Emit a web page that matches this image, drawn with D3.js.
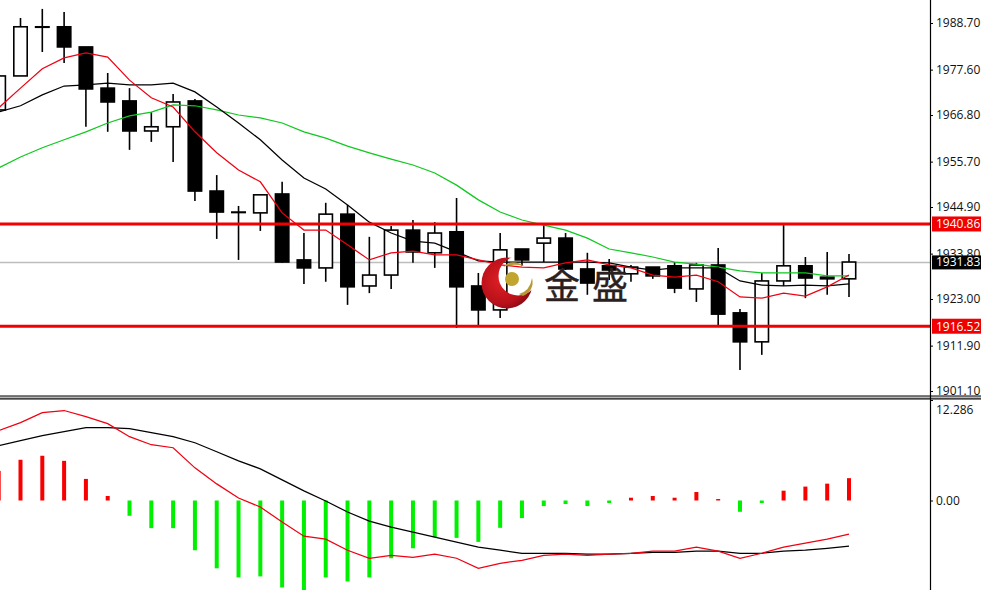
<!DOCTYPE html>
<html><head><meta charset="utf-8">
<script src="https://cdn.jsdelivr.net/npm/d3@7/dist/d3.min.js"></script>
<style>html,body{margin:0;padding:0;background:#fff;overflow:hidden}svg{display:block}text{font-family:"Open Sans","Noto Sans",sans-serif;font-size:12px}</style>
</head><body><svg id="c" width="981" height="590"></svg>
<script>
const open  = [1968.0,1976.1,1987.8,1987.8,1983.0,1973.2,1970.15,1963.0,1964.0,1970.15,1948.7,1943.7,1943.5,1948.0,1932.3,1930.4,1943.2,1926.1,1928.7,1939.4,1934.0,1939.0,1926.1,1920.4,1934.9,1936.3,1937.5,1930.15,1930.9,1929.0,1930.6,1930.9,1925.4,1931.1,1919.7,1912.8,1927.3,1930.9,1928.2,1927.8];
const close = [1976.1,1987.8,1987.8,1983.0,1973.0,1969.9,1963.0,1964.0,1969.9,1948.7,1943.7,1943.6,1947.8,1931.8,1930.4,1943.2,1925.9,1928.7,1939.4,1934.2,1938.7,1925.9,1920.4,1934.7,1932.3,1937.5,1930.15,1926.8,1929.9,1930.6,1928.5,1925.6,1931.1,1919.4,1912.8,1927.3,1930.9,1928.0,1927.8,1931.8];
const high  = [1976.1,1989.9,1992.05,1991.3,1983.0,1976.8,1973.2,1967.5,1971.8,1970.6,1952.5,1945.15,1947.8,1950.9,1938.7,1945.9,1945.4,1937.8,1940.4,1941.8,1941.3,1947.05,1929.2,1938.7,1934.9,1940.6,1938.7,1934.0,1932.5,1931.1,1930.6,1931.8,1931.6,1935.15,1920.6,1929.2,1940.6,1933.0,1934.2,1933.7];
const low   = [1967.5,1976.1,1981.8,1979.2,1964.0,1962.8,1958.5,1960.4,1955.6,1946.3,1937.3,1932.3,1939.2,1931.6,1926.6,1927.1,1921.6,1924.4,1925.4,1931.6,1930.4,1916.1,1916.8,1918.5,1930.9,1931.8,1929.9,1924.0,1927.5,1927.1,1927.8,1924.4,1922.3,1916.8,1906.1,1909.7,1926.1,1923.2,1924.0,1923.5];
const maRed   = [1968.5,1973.2,1977.8,1980.4,1981.6,1980.6,1975.1,1970.9,1968.7,1962.8,1957.8,1953.7,1950.9,1943.5,1939.4,1939.4,1935.9,1932.3,1934.0,1934.4,1933.5,1933.5,1932.3,1931.1,1930.6,1930.4,1931.6,1932.3,1931.1,1930.4,1928.7,1928.2,1928.7,1927.1,1923.5,1923.2,1924.4,1923.7,1925.9,1928.7];
const maBlack = [1967.5,1969.0,1971.6,1973.7,1974.0,1974.4,1974.0,1974.0,1974.4,1972.3,1968.7,1964.9,1960.9,1956.1,1951.8,1949.2,1945.4,1941.3,1938.7,1936.8,1936.3,1934.2,1932.1,1931.8,1931.8,1931.8,1931.8,1931.8,1931.6,1930.6,1929.9,1930.4,1930.4,1930.4,1927.3,1926.3,1926.1,1926.3,1926.1,1926.6];
const maGreen = [1954.2,1956.8,1959.0,1960.9,1962.8,1964.9,1966.6,1967.5,1969.2,1969.0,1968.0,1966.8,1966.1,1964.9,1962.8,1961.3,1959.4,1957.8,1956.3,1954.9,1953.0,1950.1,1946.6,1943.7,1941.8,1940.6,1939.4,1937.5,1934.9,1934.0,1933.0,1931.8,1931.3,1930.6,1929.7,1929.2,1929.2,1929.2,1928.5,1928.5];
const macdHist = [3.62,4.98,5.47,4.85,2.64,0.55,-1.87,-3.38,-3.38,-6.08,-8.29,-9.4,-9.28,-10.63,-11.24,-9.4,-9.89,-9.4,-7.06,-5.84,-4.48,-4.57,-5.06,-3.34,-2.15,-0.68,-0.43,-0.68,-0.31,0.34,0.55,0.34,1.04,0.18,-1.38,-0.31,1.2,1.7,2.06,2.73];
const macdRed = [8.54,9.52,10.75,11.0,10.26,9.4,7.8,6.82,6.45,3.99,2.03,0.31,-0.8,-2.64,-4.36,-4.73,-6.08,-7.06,-6.7,-6.94,-6.57,-7.06,-8.29,-7.68,-7.31,-6.7,-6.57,-6.7,-6.57,-6.45,-6.2,-6.2,-5.71,-6.2,-7.06,-6.45,-5.71,-5.22,-4.73,-4.12];
const macdBlack = [6.7,7.31,7.92,8.42,8.91,8.91,8.78,8.29,7.8,7.06,5.96,4.85,3.87,2.52,1.17,-0.06,-1.41,-2.52,-3.26,-3.87,-4.48,-5.1,-5.71,-6.08,-6.45,-6.45,-6.45,-6.57,-6.57,-6.45,-6.33,-6.33,-6.2,-6.2,-6.45,-6.45,-6.2,-6.08,-5.84,-5.59];
const priceTicks = [1988.70,1977.60,1966.80,1955.70,1944.90,1933.80,1923.00,1911.90,1901.10];
const macdTicks = [12.286,0];
const macdTickLabels = ["12.286","0.00"];
const redLevels = [1940.86,1916.52];
const lastPrice = 1931.83;
const logoText = "金盛";

const svg = d3.select("#c");
const W=981,H=590,axisX=930;
const idx = d3.range(open.length);
const x = d3.scaleLinear().domain([0,39]).range([-1.3,849]);
const y = d3.scaleLinear().domain([1901.1,1988.7]).range([391,23]);
const ym = d3.scaleLinear().domain([0,12.286]).range([500.5,400]);

const defs = svg.append("defs");
defs.append("clipPath").attr("id","cp").append("rect").attr("x",0).attr("y",0).attr("width",axisX).attr("height",396);
defs.append("clipPath").attr("id","cm").append("rect").attr("x",0).attr("y",400).attr("width",axisX).attr("height",190);
const grad = defs.append("radialGradient").attr("id","rg").attr("cx","0.4").attr("cy","0.45").attr("r","0.65");
grad.append("stop").attr("offset","0").attr("stop-color","#e02025");
grad.append("stop").attr("offset","0.7").attr("stop-color","#b8101a");
grad.append("stop").attr("offset","1").attr("stop-color","#7c0a10");
const hole = defs.append("mask").attr("id","hole");
hole.append("rect").attr("width",W).attr("height",H).attr("fill","#fff");
hole.append("circle").attr("cx",518).attr("cy",276).attr("r",19.5).attr("fill","#000");

const gP = svg.append("g").attr("clip-path","url(#cp)");
gP.append("line").attr("x1",0).attr("x2",axisX).attr("y1",Math.round(y(lastPrice))+.5).attr("y2",Math.round(y(lastPrice))+.5).attr("stroke","#bdbdbd").attr("stroke-width",1.3);
const cg = gP.selectAll("g.c").data(idx).join("g").attr("class","c");
cg.append("line").attr("x1",i=>x(i)).attr("x2",i=>x(i)).attr("y1",i=>y(high[i])).attr("y2",i=>y(low[i])).attr("stroke","#000").attr("stroke-width",1.6);
cg.append("rect").attr("x",i=>x(i)-6.7).attr("width",13.4)
  .attr("y",i=>y(Math.max(open[i],close[i])))
  .attr("height",i=>Math.max(0.5,Math.abs(y(open[i])-y(close[i]))))
  .attr("fill",i=>close[i]<open[i]?"#000":"#fff").attr("stroke","#000").attr("stroke-width",1.6);
const lineP = d3.line().x((d,i)=>x(i)).y(d=>y(d));
[[maGreen,"#10c820"],[maBlack,"#000"],[maRed,"#f00010"]].forEach(([s,c])=>{
  gP.append("path").attr("d",lineP(s)).attr("fill","none").attr("stroke",c).attr("stroke-width",1.25);
});
gP.selectAll("line.lv").data(redLevels).join("line").attr("class","lv").attr("x1",0).attr("x2",axisX)
  .attr("y1",d=>y(d)).attr("y2",d=>y(d)).attr("stroke","#f00000").attr("stroke-width",3);

const logo = svg.append("g");
logo.append("circle").attr("cx",507).attr("cy",283).attr("r",25.5).attr("fill","url(#rg)").attr("mask","url(#hole)");
logo.append("circle").attr("cx",512).attr("cy",279).attr("r",7).attr("fill","#c2a52e");
logo.append("path").attr("d","M503 267 Q512 258 524 266 Q513 263 503 267Z").attr("fill","#b89a35");
logo.append("path").attr("d","M519 294 Q530 291 532 278 Q535 290 523 296Z").attr("fill","#b89a35");
logo.append("text").attr("x",544).attr("y",299).text(logoText).attr("textLength",84)
  .style("font-family",'"Noto Sans CJK SC"').style("font-size","36px").attr("fill","#2b2020").attr("stroke","#2b2020").attr("stroke-width",0.4);

svg.append("rect").attr("x",0).attr("y",395.5).attr("width",W).attr("height",1.2).attr("fill","#000");
svg.append("rect").attr("x",0).attr("y",396.7).attr("width",W).attr("height",1.6).attr("fill","#b8b8b8");
svg.append("rect").attr("x",0).attr("y",398.3).attr("width",W).attr("height",1.2).attr("fill","#000");

const gM = svg.append("g").attr("clip-path","url(#cm)");
gM.selectAll("rect.b").data(idx).join("rect").attr("class","b")
  .attr("x",i=>x(i)-2).attr("width",4)
  .attr("y",i=>Math.min(ym(0),ym(macdHist[i])))
  .attr("height",i=>Math.abs(ym(macdHist[i])-ym(0)))
  .attr("fill",i=>macdHist[i]>=0?"#f80000":"#00f000");
const lineM = d3.line().x((d,i)=>x(i)).y(d=>ym(d));
[[macdBlack,"#000"],[macdRed,"#f00010"]].forEach(([s,c])=>{
  gM.append("path").attr("d",lineM(s)).attr("fill","none").attr("stroke",c).attr("stroke-width",1.25);
});

const axP = svg.append("g").attr("transform",`translate(${axisX},0)`)
  .call(d3.axisRight(y).tickValues(priceTicks).tickFormat(d3.format(".2f")).tickSize(3).tickPadding(3));
axP.select(".domain").remove();
const axM = svg.append("g").attr("transform",`translate(${axisX},0)`)
  .call(d3.axisRight(ym).tickValues(macdTicks).tickFormat((d,i)=>macdTickLabels[i]).tickSize(3).tickPadding(3));
axM.select(".domain").remove();
axM.selectAll("text").attr("dy",(d,i)=>i===0?"1.1em":"0.32em");
[axP,axM].forEach(a=>{a.selectAll("text").attr("fill","#111").style("font-size","12px");a.selectAll("line").attr("stroke","#000");});
svg.append("line").attr("x1",axisX+.5).attr("x2",axisX+.5).attr("y1",0).attr("y2",H).attr("stroke","#000").attr("stroke-width",1.2);

const tags = svg.append("g");
redLevels.forEach(v=>{
  tags.append("rect").attr("x",932).attr("y",y(v)-7.5).attr("width",49).attr("height",15).attr("fill","#f00000");
  tags.append("text").attr("x",936).attr("y",y(v)).attr("dy","0.36em").attr("fill","#fff").text(v.toFixed(2));
});
tags.append("rect").attr("x",932).attr("y",y(lastPrice)-6.5).attr("width",49).attr("height",14).attr("fill","#000");
tags.append("text").attr("x",936).attr("y",y(lastPrice)).attr("dy","0.36em").attr("fill","#fff").text(lastPrice.toFixed(2));
</script></body></html>
